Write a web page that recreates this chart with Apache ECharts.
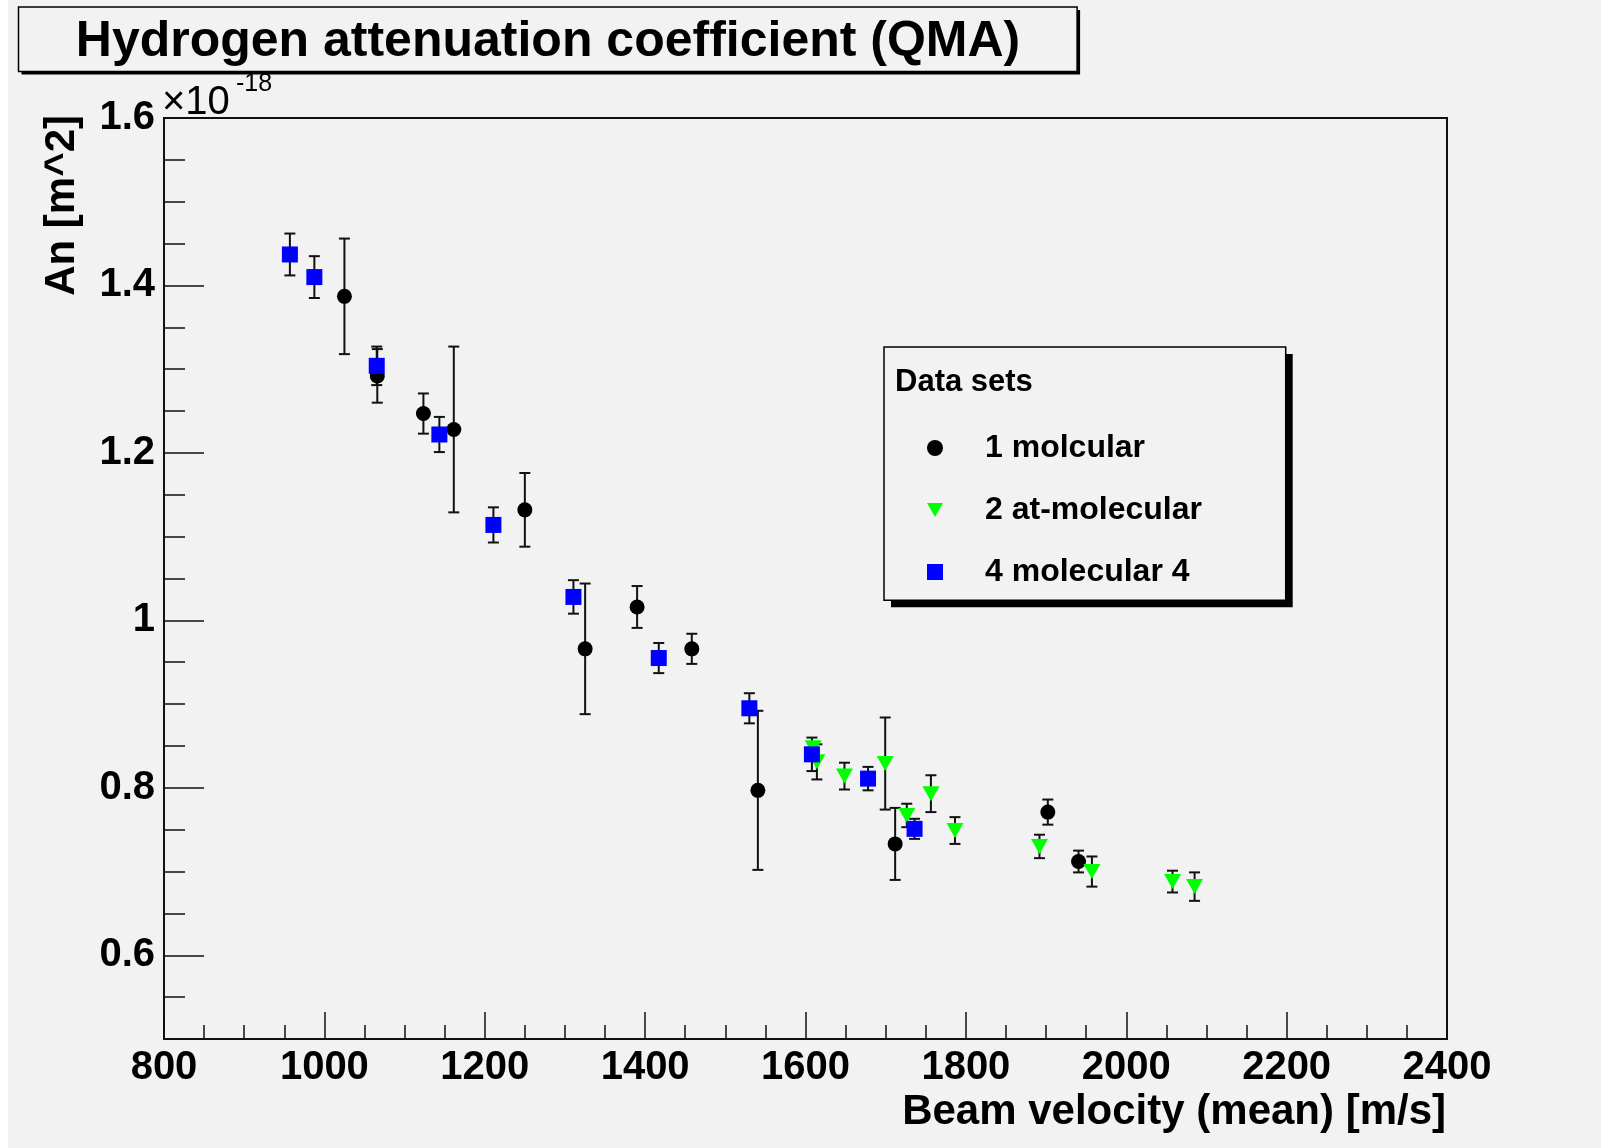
<!DOCTYPE html>
<html>
<head>
<meta charset="utf-8">
<script src="https://cdn.jsdelivr.net/npm/echarts@6/dist/echarts.min.js"></script>
<style>
html,body{margin:0;padding:0;background:#f2f2f2;}
#c{width:1601px;height:1148px;}
</style>
</head>
<body>
<div id="c"></div>
<script>
// Values of An in units of 1e-18 m^2
const velBlack = [1025, 1066, 1123.5, 1161.4, 1250, 1325.2, 1390, 1458.2, 1540.6, 1711.8, 1902.2, 1940.5];
const valBlack = [1.387, 1.292, 1.247, 1.228, 1.132, 0.966, 1.016, 0.966, 0.797, 0.733, 0.771, 0.712];
const errBlack = [0.069, 0.032, 0.024, 0.099, 0.044, 0.078, 0.025, 0.018, 0.095, 0.043, 0.015, 0.013];

const velGreen = [1609.6, 1614.2, 1648.6, 1699.4, 1726.3, 1756.4, 1786.4, 1891.8, 1957.2, 2057.7, 2085.2];
const valGreen = [0.848, 0.831, 0.814, 0.829, 0.767, 0.793, 0.749, 0.730, 0.700, 0.688, 0.682];
const errGreen = [0.006, 0.021, 0.016, 0.055, 0.014, 0.022, 0.016, 0.014, 0.018, 0.013, 0.017];

const velBlue = [957, 987.5, 1065.3, 1143.4, 1210.8, 1310.6, 1417, 1530, 1608, 1678, 1736];
const valBlue = [1.437, 1.410, 1.304, 1.222, 1.114, 1.028, 0.955, 0.895, 0.840, 0.811, 0.751];
const errBlue = [0.025, 0.025, 0.023, 0.021, 0.021, 0.020, 0.018, 0.018, 0.020, 0.014, 0.012];

const seriesNames = ['1 molcular', '2 at-molecular', '4 molecular 4'];
const yMajorTicks = [0.6, 0.8, 1.0, 1.2, 1.4, 1.6];

const FONT = 'Liberation Sans, Arial, Helvetica, sans-serif';
const triDown = 'path://M0,0 L17,0 L8.5,15 Z';

function pts(v, y, e) { return v.map((x, i) => [x, y[i], e[i]]); }

function errItem(params, api) {
  const x = api.value(0), y = api.value(1), e = api.value(2);
  const t = api.coord([x, y + e]);
  const b = api.coord([x, y - e]);
  const hw = 5.5;
  const st = { stroke: '#111', lineWidth: 2 };
  return {
    type: 'group',
    children: [
      { type: 'line', shape: { x1: t[0], y1: t[1], x2: b[0], y2: b[1] }, style: st },
      { type: 'line', shape: { x1: t[0] - hw, y1: t[1], x2: t[0] + hw, y2: t[1] }, style: st },
      { type: 'line', shape: { x1: b[0] - hw, y1: b[1], x2: b[0] + hw, y2: b[1] }, style: st }
    ]
  };
}

function errSeries(d) {
  return { type: 'custom', renderItem: errItem, data: d, encode: { x: 0, y: 1 }, silent: true, clip: true };
}

const chart = echarts.init(document.getElementById('c'), null, { renderer: 'canvas' });
const dBlack = pts(velBlack, valBlack, errBlack);
const dGreen = pts(velGreen, valGreen, errGreen);
const dBlue = pts(velBlue, valBlue, errBlue);

const tickLabel = { fontSize: 40, fontWeight: 'bold', color: '#000', fontFamily: FONT };

chart.setOption({
  backgroundColor: '#f2f2f2',
  animation: false,
  grid: { left: 164, top: 118, right: 154, bottom: 109, show: true, borderColor: '#111', borderWidth: 2, backgroundColor: 'transparent' },
  xAxis: [{
    type: 'value', min: 800, max: 2400, interval: 200,
    axisLine: { show: true, lineStyle: { color: '#111', width: 2 } },
    axisTick: { show: true, inside: true, length: 27, lineStyle: { color: '#111', width: 1.5 } },
    minorTick: { show: true, splitNumber: 4, length: 14, lineStyle: { color: '#111', width: 1.5 } },
    splitLine: { show: false }, minorSplitLine: { show: false },
    axisLabel: Object.assign({ margin: 9, formatter: function (v) { return String(v); } }, tickLabel)
  }],
  yAxis: [{
    type: 'value', min: 0.5, max: 1.6, interval: 0.05, position: 'left',
    axisLine: { show: true, lineStyle: { color: '#111', width: 2 } },
    axisTick: { show: true, inside: true, length: 21, lineStyle: { color: '#111', width: 1.5 } },
    splitLine: { show: false },
    axisLabel: Object.assign({
      margin: 9, padding: [8, 0, 0, 0],
      formatter: function (v) { return Math.round(v * 100) % 20 === 0 && v > 0.55 ? String(+v.toFixed(2)) : ''; }
    }, tickLabel)
  }, {
    type: 'value', min: 0.5, max: 1.6, position: 'left',
    axisLine: { show: false },
    axisTick: { show: true, inside: true, length: 40, customValues: yMajorTicks, lineStyle: { color: '#111', width: 1.5 } },
    axisLabel: { show: false },
    splitLine: { show: false }
  }],
  legend: {
    orient: 'vertical', left: 922, top: 427, itemWidth: 16, itemHeight: 16, itemGap: 30,
    selectedMode: false, z: 20,
    textStyle: { fontSize: 32, fontWeight: 'bold', fontFamily: FONT, color: '#000', lineHeight: 32, padding: [0, 0, 0, 37] },
    data: [
      { name: seriesNames[0], icon: 'circle' },
      { name: seriesNames[1], icon: triDown },
      { name: seriesNames[2], icon: 'rect' }
    ]
  },
  graphic: [
    { type: 'rect', shape: { x: 0, y: 0, width: 8, height: 1148 }, style: { fill: '#ffffff' }, silent: true },
    // title box
    { type: 'rect', shape: { x: 21.5, y: 10, width: 1058.6, height: 64.5 }, style: { fill: '#000' }, z: 10, silent: true },
    { type: 'rect', shape: { x: 18.5, y: 7, width: 1058.6, height: 64.5 }, style: { fill: '#f2f2f2', stroke: '#000', lineWidth: 1.5 }, z: 11, silent: true },
    { type: 'text', x: 548, y: 42, z: 12, silent: true,
      style: { text: 'Hydrogen attenuation coefficient (QMA)', font: 'bold 50px ' + FONT, fill: '#000', align: 'center', verticalAlign: 'middle' } },
    // exponent
    { type: 'text', x: 162, y: 103, z: 12, silent: true,
      style: { text: '\u00d710', font: '40px ' + FONT, fill: '#000', align: 'left', verticalAlign: 'middle' } },
    { type: 'text', x: 236, y: 84, z: 12, silent: true,
      style: { text: '-18', font: '25px ' + FONT, fill: '#000', align: 'left', verticalAlign: 'middle' } },
    // axis titles
    { type: 'text', x: 1446, y: 1112, z: 12, silent: true,
      style: { text: 'Beam velocity (mean) [m/s]', font: 'bold 42px ' + FONT, fill: '#000', align: 'right', verticalAlign: 'middle' } },
    { type: 'text', x: 62, y: 115, rotation: Math.PI / 2, z: 12, silent: true,
      style: { text: 'An [m^2]', font: 'bold 42px ' + FONT, fill: '#000', align: 'right', verticalAlign: 'middle' } },
    // legend box
    { type: 'rect', shape: { x: 891, y: 354, width: 401.7, height: 253.3 }, style: { fill: '#000' }, z: 10, silent: true },
    { type: 'rect', shape: { x: 884, y: 347, width: 401.7, height: 253.3 }, style: { fill: '#f2f2f2', stroke: '#000', lineWidth: 1.5 }, z: 11, silent: true },
    { type: 'text', x: 895, y: 382, z: 12, silent: true,
      style: { text: 'Data sets', font: 'bold 31px ' + FONT, fill: '#000', align: 'left', verticalAlign: 'middle' } }
  ],
  series: [
    errSeries(dBlack),
    { name: seriesNames[0], type: 'scatter', data: dBlack, symbol: 'circle', symbolSize: 15, itemStyle: { color: '#000000', opacity: 1 } },
    errSeries(dGreen),
    { name: seriesNames[1], type: 'scatter', data: dGreen, symbol: triDown, symbolSize: [17, 15], itemStyle: { color: '#00ff00', opacity: 1 } },
    errSeries(dBlue),
    { name: seriesNames[2], type: 'scatter', data: dBlue, symbol: 'rect', symbolSize: 16, itemStyle: { color: '#0000ff', opacity: 1 } }
  ]
});
</script>
</body>
</html>
